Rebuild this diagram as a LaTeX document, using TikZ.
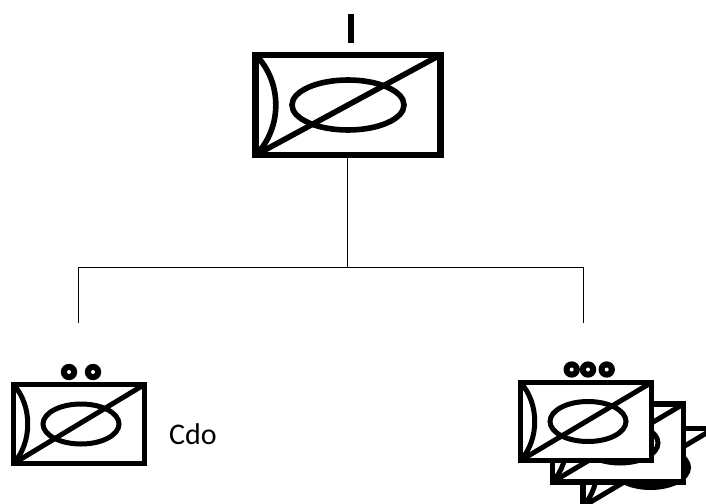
\documentclass[tikz,border=0pt]{standalone}
\usepackage{fontspec}
\setmainfont{Carlito}
\usetikzlibrary{calc}
\tikzset{
  symframe/.style={draw=black,fill=white,rectangle,inner sep=0pt,outer sep=0pt},
  connector/.style={draw=black,line width=0.9pt},
  rankdot/.style={fill=black,circle,inner sep=0pt,outer sep=0pt,minimum size=16.4pt,
    path picture={\fill[white] (path picture bounding box.center) circle (2pt);}},
  ranklabel/.style={font=\fontsize{30}{36}\selectfont,text=black,inner sep=0pt}
}
% name, centre x, centre y, width, height, line width, ellipse offset, x radius, y radius
\newcommand{\symunit}[9]{%
  \node[symframe,minimum width=#4pt,minimum height=#5pt,line width=1.18*#6pt] (#1) at (#2,#3) {};
  \begin{scope}[line width=#6pt,line join=miter]
    \draw (#1.north east) -- (#1.south west);
    \draw ($(#1.center)+(#7,0)$) ellipse [x radius=#8,y radius=#9];
    \draw (#1.north west) .. controls ($(#1.north west)+(0.145*#4,0.27*#5)$) and ($(#1.south west)+(0.145*#4,-0.27*#5)$) .. (#1.south west);
  \end{scope}
}
\begin{document}
\begin{tikzpicture}[x=1pt,y=-1pt]
\useasboundingbox (0,0) rectangle (706,503);
\clip (0,0) rectangle (706,503);
\fill[white] (0,0) rectangle (706,503);
% connectors
\coordinate (junction) at (347,267);
\coordinate (leftend) at (78,323);
\coordinate (rightend) at (583,323);
% HQ unit
\symunit{hq}{348}{105}{184.5}{100}{5.6}{0}{56}{25}
\draw[line width=5.8pt] (350.6,14) coordinate (rtop) -- (350.6,43) coordinate (rbot);
\draw[connector] (junction |- hq.south) -- (junction);
\draw[connector] (leftend) -- (leftend |- junction) -- (rightend |- junction) -- (rightend);
% left unit
\symunit{coy}{79}{424}{131}{79}{5}{2}{38}{20}
\node[rankdot] (dotA) at (69,372) {};
\node[rankdot] (dotB) at (93,372) {};
\node[ranklabel,anchor=west] (cdo) at (169,434) {Cdo};
% right stacked units
\symunit{backB}{648.5}{467.5}{131}{78}{5}{2}{38}{20}
\symunit{backA}{618}{443}{131}{78}{5}{2}{38}{20}
\symunit{front}{586}{421.5}{131}{78}{5}{2}{38}{20}
\node[rankdot] (dotC) at (571.7,369.5) {};
\node[rankdot] (dotD) at (588,369.5) {};
\node[rankdot] (dotE) at (606.7,369.5) {};
\end{tikzpicture}
\end{document}
